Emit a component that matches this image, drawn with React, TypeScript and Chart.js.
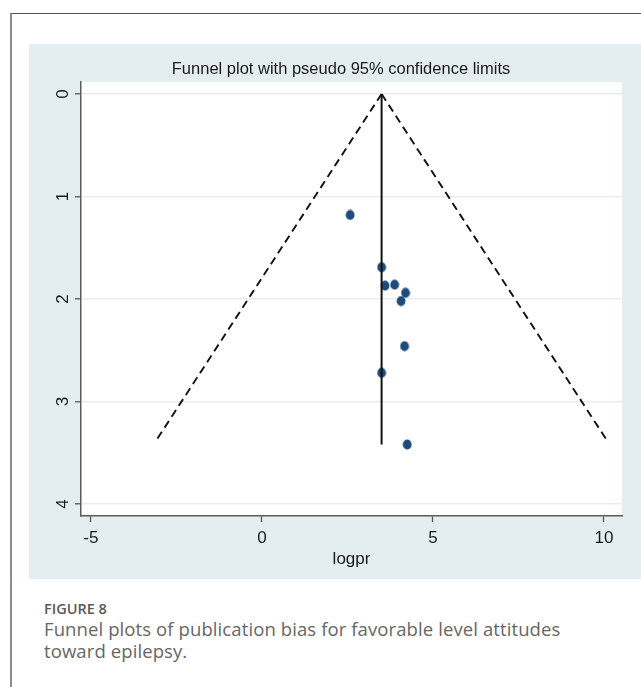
import React, { useEffect, useRef } from "react";
import { Chart, registerables } from "chart.js";

Chart.register(...registerables);

// Study estimates: log prevalence ratio (x) and its standard error (y)
const STUDY_LOGPR = [2.58, 3.5, 3.6, 3.88, 4.2, 4.07, 4.17, 3.5, 4.25];
const STUDY_SE = [1.18, 1.69, 1.87, 1.86, 1.94, 2.02, 2.46, 2.72, 3.42];

// Pooled estimate line and pseudo 95% confidence limits
const POOLED_LINE_X = [3.5, 3.5];
const POOLED_LINE_SE = [0, 3.42];
const LOWER_LIMIT_X = [3.5, -3.13];
const UPPER_LIMIT_X = [3.5, 10.13];
const LIMIT_SE = [0, 3.4];

const X_TICKS = [-5, 0, 5, 10];
const Y_TICKS = [0, 1, 2, 3, 4];

const TITLE = "Funnel plot with pseudo 95% confidence limits";
const X_TITLE = "logpr";

const FAMILY = "'Liberation Sans', Arial, sans-serif";

const toPoints = (xs: number[], ys: number[]) => xs.map((x, i) => ({ x, y: ys[i] }));

function makeMarker(): HTMLCanvasElement {
  const c = document.createElement("canvas");
  c.width = 10;
  c.height = 11;
  const g = c.getContext("2d")!;
  g.fillStyle = "#1d4b7b";
  g.beginPath();
  g.ellipse(5, 5.5, 4.4, 5.1, 0, 0, Math.PI * 2);
  g.fill();
  return c;
}

const plotBackground = {
  id: "plotBackground",
  beforeDraw(chart: any) {
    const { ctx, chartArea } = chart;
    ctx.save();
    ctx.fillStyle = "#ffffff";
    ctx.fillRect(chartArea.left, chartArea.top, chartArea.right - chartArea.left, chartArea.bottom - chartArea.top);
    ctx.restore();
  },
};

// Vertical tick labels on the y axis, reading bottom to top
const rotatedYLabels = {
  id: "rotatedYLabels",
  afterDraw(chart: any) {
    const { ctx } = chart;
    const scale = chart.scales.y;
    ctx.save();
    ctx.fillStyle = "#1a1a1a";
    ctx.font = `17px ${FAMILY}`;
    ctx.textAlign = "center";
    ctx.textBaseline = "middle";
    Y_TICKS.forEach((v) => {
      const y = scale.getPixelForValue(v);
      ctx.save();
      ctx.translate(34, y);
      ctx.rotate(-Math.PI / 2);
      ctx.fillText(String(v), 0, 0);
      ctx.restore();
    });
    ctx.restore();
  },
};

function FunnelChart() {
  const ref = useRef<HTMLCanvasElement>(null);

  useEffect(() => {
    if (!ref.current) return;
    const marker = makeMarker();
    const font = { family: FAMILY, size: 17 };
    const limitStyle = {
      type: "line",
      borderColor: "#111111",
      borderWidth: 1.9,
      borderDash: [8, 5],
      pointRadius: 0,
      showLine: true,
      fill: false,
    };
    const chart = new Chart(ref.current, {
      type: "scatter",
      data: {
        datasets: [
          { ...limitStyle, data: toPoints(LOWER_LIMIT_X, LIMIT_SE) },
          { ...limitStyle, data: toPoints(UPPER_LIMIT_X, LIMIT_SE) },
          {
            type: "line",
            data: toPoints(POOLED_LINE_X, POOLED_LINE_SE),
            borderColor: "#111111",
            borderWidth: 2,
            pointRadius: 0,
            showLine: true,
            fill: false,
          },
          {
            data: toPoints(STUDY_LOGPR, STUDY_SE),
            pointStyle: marker,
            pointRadius: 5,
            backgroundColor: "#1d4b7b",
            borderColor: "#1d4b7b",
          },
        ],
      } as any,
      options: {
        animation: false,
        responsive: false,
        maintainAspectRatio: false,
        layout: { padding: { left: 31, right: 19, top: 0, bottom: 0 } },
        plugins: {
          legend: { display: false },
          tooltip: { enabled: false },
          title: {
            display: true,
            text: TITLE,
            color: "#1a1a1a",
            font: { family: FAMILY, size: 16.5, weight: "normal" },
            padding: { top: 15.6, bottom: 2.6 },
          },
        },
        scales: {
          x: {
            type: "linear",
            min: -5.29,
            max: 10.53,
            afterBuildTicks: (scale: any) => {
              scale.ticks = X_TICKS.map((value) => ({ value }));
            },
            afterFit: (scale: any) => {
              scale.height = 63;
            },
            ticks: { color: "#1a1a1a", font, padding: 6 },
            grid: { drawOnChartArea: false, drawTicks: true, tickLength: 6, tickColor: "#555555", tickWidth: 1.3 },
            border: { color: "#5a5a5a", width: 1.5 },
            title: { display: true, text: X_TITLE, color: "#1a1a1a", font, padding: { top: 0, bottom: 9 } },
          },
          y: {
            type: "linear",
            reverse: true,
            min: -0.117,
            max: 4.117,
            afterBuildTicks: (scale: any) => {
              scale.ticks = Y_TICKS.map((value) => ({ value }));
            },
            afterFit: (scale: any) => {
              scale.width = 21;
            },
            ticks: { display: false },
            grid: { color: "#ebebeb", lineWidth: 1.6, drawTicks: true, tickLength: 6, tickColor: "#555555", tickWidth: 1.3 },
            border: { color: "#5a5a5a", width: 1.5 },
          },
        },
      } as any,
      plugins: [plotBackground, rotatedYLabels],
    });
    return () => chart.destroy();
  }, []);

  return <canvas ref={ref} width={612} height={535} style={{ display: "block" }} />;
}

export default function App() {
  return (
    <div
      style={{
        position: "absolute",
        left: 0,
        top: 0,
        width: 641,
        height: 687,
        background: "#ffffff",
        overflow: "hidden",
      }}
    >
      <div
        style={{
          position: "absolute",
          left: 10,
          top: 13,
          width: 631,
          height: 674,
          borderLeft: "2px solid #8c8c8c",
          borderTop: "1px solid #555555",
          boxSizing: "border-box",
        }}
      />
      <div
        style={{
          position: "absolute",
          left: 29,
          top: 44,
          width: 612,
          height: 535,
          background: "#e4edf0",
        }}
      >
        <FunnelChart />
      </div>
      <div
        style={{
          position: "absolute",
          left: 44,
          top: 599,
          fontFamily: "'Open Sans', sans-serif",
          color: "#595959",
        }}
      >
        <div style={{ fontSize: 14.5, fontWeight: 600, lineHeight: "19px" }}>FIGURE 8</div>
        <div
          style={{
            fontSize: 18.5,
            fontWeight: 400,
            lineHeight: "22px",
            color: "#666666",
            width: 597,
            letterSpacing: 0.1,
          }}
        >
          Funnel plots of publication bias for favorable level attitudes
          <br />
          toward epilepsy.
        </div>
      </div>
    </div>
  );
}
